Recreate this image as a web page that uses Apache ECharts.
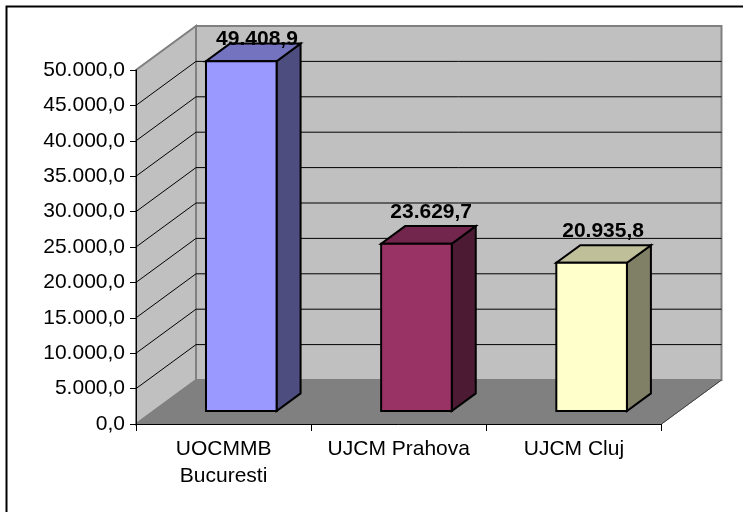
<!DOCTYPE html>
<html>
<head>
<meta charset="utf-8">
<style>html,body{margin:0;padding:0;background:#fff}#c{width:743px;height:512px}</style>
<script src="https://cdn.jsdelivr.net/npm/echarts@6/dist/echarts.min.js"></script>
</head>
<body>
<div id="c"></div>
<script>
const categories = ['UOCMMB\nBucuresti', 'UJCM Prahova', 'UJCM Cluj'];
const values = [49408.9, 23629.7, 20935.8];
const valueLabels = ['49.408,9', '23.629,7', '20.935,8'];
const gridTicks = [5000, 10000, 15000, 20000, 25000, 30000, 35000, 40000, 45000];
const frontColors = ['#9999FF', '#993366', '#FFFFCC'];
const topColors = ['#7373BF', '#73264D', '#BFBF99'];
const sideColors = ['#4D4D80', '#4D1A33', '#808066'];
const labelShiftX = [15.7, 14.7, 11.5];
const labelLift = [22.5, 32, 31.5];

const DEPTH_X = 60, DEPTH_Y = -44;
const BAR_RATIO = 0.403, BAR_START = 0.295, BAR_DEPTH = 0.4;
const FONT = '"Liberation Sans", Arial, sans-serif';

function fmtAxis(v) {
  const s = String(Math.round(v));
  return s.replace(/\B(?=(\d{3})+$)/g, '.') + ',0';
}
function poly(points, fill, stroke, lw) {
  return { type: 'polygon', shape: { points }, style: { fill, stroke, lineWidth: lw, lineJoin: 'miter' } };
}

function renderWalls(params, api) {
  const cs = params.coordSys;
  const l = cs.x, r = cs.x + cs.width, t = cs.y, b = cs.y + cs.height;
  const dx = DEPTH_X, dy = DEPTH_Y;
  return { type: 'group', children: [
    poly([[l, b], [l, t], [l + dx, t + dy], [l + dx, b + dy]], '#C0C0C0', '#808080', 2),
    poly([[l + dx, b + dy], [l + dx, t + dy], [r + dx, t + dy], [r + dx, b + dy]], '#C0C0C0', '#808080', 2),
    poly([[l, b], [l + dx, b + dy], [r + dx, b + dy], [r, b]], '#808080', '#808080', 1),
    { type: 'line', shape: { x1: r, y1: b, x2: r + dx, y2: b + dy }, style: { stroke: '#404040', lineWidth: 1 } }
  ] };
}

function renderGrid(params, api) {
  const cs = params.coordSys;
  const y = api.coord([0, api.value(0)])[1];
  const l = cs.x, r = cs.x + cs.width;
  return { type: 'polyline',
    shape: { points: [[l, y], [l + DEPTH_X, y + DEPTH_Y], [r + DEPTH_X, y + DEPTH_Y]] },
    style: { fill: null, stroke: '#000', lineWidth: 1 } };
}

function renderBar(params, api) {
  const i = api.value(0), v = api.value(1);
  const base = api.coord([i, 0]), top = api.coord([i, v]);
  const hw = api.size([1, 0])[0] * BAR_RATIO / 2;
  const sx = DEPTH_X * BAR_START, sy = DEPTH_Y * BAR_START;
  const ex = DEPTH_X * BAR_DEPTH, ey = DEPTH_Y * BAR_DEPTH;
  const L = base[0] - hw + sx, R = base[0] + hw + sx, B = base[1] + sy, T = top[1] + sy;
  return { type: 'group', children: [
    poly([[R, B], [R, T], [R + ex, T + ey], [R + ex, B + ey]], sideColors[i], '#000', 2),
    poly([[L, T], [R, T], [R + ex, T + ey], [L + ex, T + ey]], topColors[i], '#000', 2),
    poly([[L, B], [L, T], [R, T], [R, B]], frontColors[i], '#000', 2),
    { type: 'text', z2: 10, style: {
      text: valueLabels[i], x: (L + R) / 2 + labelShiftX[i], y: T - labelLift[i],
      align: 'center', verticalAlign: 'middle',
      font: 'bold 21px ' + FONT, fill: '#000' } }
  ] };
}

const chart = echarts.init(document.getElementById('c'), null, { renderer: 'canvas' });
chart.setOption({
  animation: false,
  backgroundColor: '#fff',
  graphic: [{ type: 'polyline', silent: true, z: 0,
    shape: { points: [[6.5, 514], [6.5, 6.5], [745, 6.5]] },
    style: { fill: null, stroke: '#000', lineWidth: 2 } }],
  grid: { left: 136, right: 81.5, top: 70, bottom: 88, containLabel: false },
  xAxis: { type: 'category', data: categories, z: 6,
    axisLine: { show: true, lineStyle: { color: '#000', width: 1 } },
    axisTick: { show: true, length: 7, alignWithLabel: false, lineStyle: { color: '#000' } },
    axisLabel: { color: '#000', fontSize: 21, fontFamily: FONT, margin: 12, lineHeight: 27, interval: 0 },
    splitLine: { show: false } },
  yAxis: { type: 'value', min: 0, max: 50000, interval: 5000, z: 6,
    axisLine: { show: true, lineStyle: { color: '#000', width: 1 } },
    axisTick: { show: true, length: 6, lineStyle: { color: '#000' } },
    axisLabel: { color: '#000', fontSize: 21, fontFamily: FONT, margin: 11, formatter: fmtAxis },
    splitLine: { show: false } },
  series: [
    { type: 'custom', z: 1, silent: true, clip: false, renderItem: renderWalls, data: [[0]] },
    { type: 'custom', z: 2, silent: true, clip: false, renderItem: renderGrid,
      encode: { x: -1, y: 0 }, data: gridTicks.map(v => [v]) },
    { type: 'custom', z: 3, silent: true, clip: false, renderItem: renderBar,
      encode: { x: 0, y: 1 }, data: values.map((v, i) => [i, v]) }
  ]
});
</script>
</body>
</html>
